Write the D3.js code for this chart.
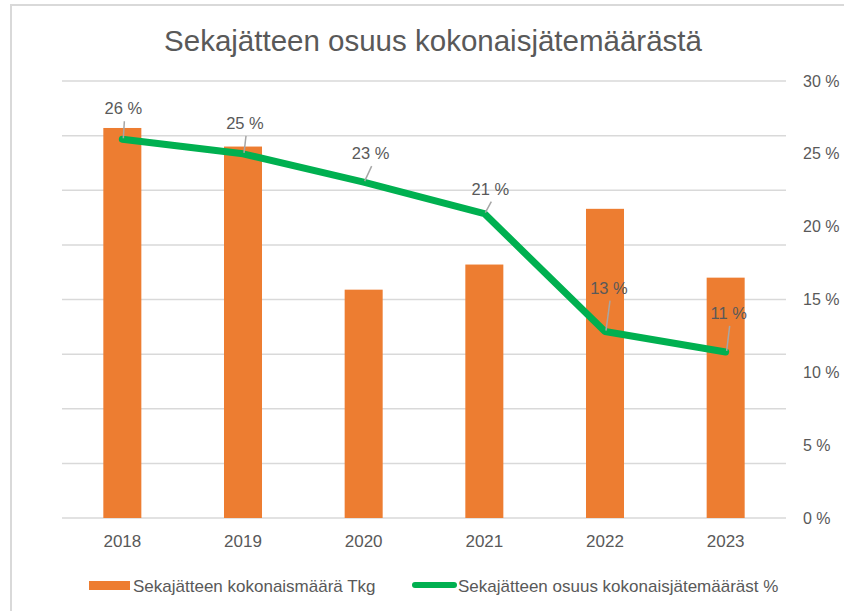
<!DOCTYPE html>
<html>
<head>
<meta charset="utf-8">
<script src="https://cdn.jsdelivr.net/npm/d3@7"></script>
<style>
  body { margin: 0; background: #fff; }
  text { font-family: "Liberation Sans", Arial, sans-serif; fill: #595959; }
</style>
</head>
<body>
<div id="chart"></div>
<script>
// data
const years = ["2018", "2019", "2020", "2021", "2022", "2023"];
const totalTkg = [357, 340, 209, 232, 283, 220];      // Sekajätteen kokonaismäärä Tkg (hidden axis)
const sharePct = [26.0, 25.0, 23.06, 20.9, 12.8, 11.4]; // Sekajätteen osuus %
const pctTicks = [0, 5, 10, 15, 20, 25, 30];
const tkgTicks = [0, 50, 100, 150, 200, 250, 300, 350, 400];

// label nudges (px) – the labels were dragged by hand in the original
const labelNudge = [[1, -31], [2, -31], [7, -29], [6, -25], [4, -44], [3, -39]];

const W = 844, H = 611;
const plot = { left: 62, right: 786, top: 81, bottom: 518 };

const svg = d3.select("#chart").append("svg")
  .attr("width", W).attr("height", H);

// chart frame
svg.append("rect")
  .attr("x", 11).attr("y", 5)
  .attr("width", W + 20).attr("height", H + 20)
  .attr("fill", "#fff").attr("stroke", "#d9d9d9").attr("stroke-width", 2);

const x = d3.scaleBand()
  .domain(years)
  .range([plot.left, plot.right])
  .paddingInner(0.685)
  .paddingOuter(0.3425);

const yTkg = d3.scaleLinear().domain([0, 400]).range([plot.bottom, plot.top]);
const yPct = d3.scaleLinear().domain([0, 30]).range([plot.bottom, plot.top]);

// gridlines from the primary (hidden) axis
svg.append("g")
  .selectAll("line")
  .data(tkgTicks)
  .join("line")
  .attr("x1", plot.left).attr("x2", plot.right)
  .attr("y1", d => yTkg(d)).attr("y2", d => yTkg(d))
  .attr("stroke", "#d9d9d9").attr("stroke-width", 1.5);

// bars
svg.append("g")
  .selectAll("rect")
  .data(years)
  .join("rect")
  .attr("x", d => x(d))
  .attr("width", x.bandwidth())
  .attr("y", (d, i) => yTkg(totalTkg[i]))
  .attr("height", (d, i) => plot.bottom - yTkg(totalTkg[i]))
  .attr("fill", "#ed7d31");

// x axis labels
const xAxis = svg.append("g")
  .attr("transform", `translate(0,${plot.bottom})`)
  .call(d3.axisBottom(x).tickSize(0).tickPadding(17));
xAxis.select(".domain").remove();
xAxis.selectAll("text")
  .attr("font-size", 17)
  .attr("fill", "#595959")
  .attr("font-family", "Liberation Sans, Arial, sans-serif");

// right axis
const yAxis = svg.append("g")
  .attr("transform", `translate(${plot.right},0)`)
  .call(d3.axisRight(yPct).tickValues(pctTicks).tickSize(0).tickPadding(17)
    .tickFormat(d => d + " %"));
yAxis.select(".domain").remove();
yAxis.selectAll("text")
  .attr("font-size", 16)
  .attr("fill", "#595959")
  .attr("font-family", "Liberation Sans, Arial, sans-serif");

// line
const pts = years.map((d, i) => [x(d) + x.bandwidth() / 2, yPct(sharePct[i])]);
svg.append("path")
  .datum(pts)
  .attr("d", d3.line())
  .attr("fill", "none")
  .attr("stroke", "#00b050")
  .attr("stroke-width", 7)
  .attr("stroke-linejoin", "round")
  .attr("stroke-linecap", "round");

// leader lines + data labels
const labels = svg.append("g");
pts.forEach((p, i) => {
  const lx = p[0] + labelNudge[i][0];
  const ly = p[1] + labelNudge[i][1];
  labels.append("line")
    .attr("x1", lx + 1).attr("y1", ly + 13)
    .attr("x2", p[0] + 1).attr("y2", p[1] - 1)
    .attr("stroke", "#a6a6a6").attr("stroke-width", 1.5);
  labels.append("text")
    .attr("x", lx).attr("y", ly)
    .attr("text-anchor", "middle")
    .attr("dominant-baseline", "central")
    .attr("font-size", 16.5)
    .text(Math.round(sharePct[i]) + " %");
});

// title
svg.append("text")
  .attr("x", 433).attr("y", 51)
  .attr("text-anchor", "middle")
  .attr("font-size", 29.5)
  .text("Sekajätteen osuus kokonaisjätemäärästä");

// legend
const legend = svg.append("g");
legend.append("rect")
  .attr("x", 89).attr("y", 581).attr("width", 41).attr("height", 9)
  .attr("fill", "#ed7d31");
legend.append("text")
  .attr("x", 133).attr("y", 586)
  .attr("dominant-baseline", "central")
  .attr("font-size", 17)
  .text("Sekajätteen kokonaismäärä Tkg");
legend.append("line")
  .attr("x1", 415).attr("x2", 454).attr("y1", 585).attr("y2", 585)
  .attr("stroke", "#00b050").attr("stroke-width", 6).attr("stroke-linecap", "round");
legend.append("text")
  .attr("x", 458).attr("y", 586)
  .attr("dominant-baseline", "central")
  .attr("font-size", 17)
  .text("Sekajätteen osuus kokonaisjätemääräst %");
</script>
</body>
</html>
